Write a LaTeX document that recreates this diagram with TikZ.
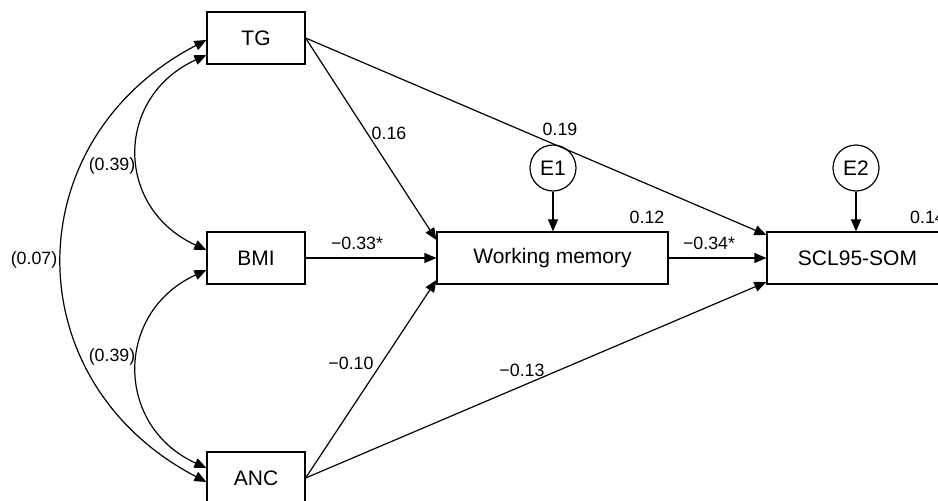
\documentclass[tikz,border=0pt]{standalone}
\usepackage{fontspec}
\setmainfont{Liberation Sans}
\usetikzlibrary{arrows.meta}
\begin{document}
\begin{tikzpicture}[x=1pt,y=-1pt,
  var/.style={draw,line width=1.2pt,minimum height=52pt,inner sep=0pt,font=\fontsize{21}{25}\selectfont},
  err/.style={draw,circle,line width=1.2pt,minimum size=46pt,inner sep=0pt,font=\fontsize{21}{25}\selectfont},
  path/.style={line width=1.2pt,-{Triangle[length=12pt,width=10pt]}},
  cov/.style={line width=1.2pt,{Triangle[length=12pt,width=10pt]}-{Triangle[length=12pt,width=10pt]}},
  lab/.style={font=\fontsize{17.8}{20}\selectfont,inner sep=0pt}]
\useasboundingbox (0,0) rectangle (938,501);
\clip (0,0) rectangle (938,501);
\fill[white] (0,0) rectangle (938,501);
% observed variables
\node[var,minimum width=98pt] (TG) at (256,38) {TG};
\node[var,minimum width=98pt] (BMI) at (256,258) {BMI};
\node[var,minimum width=98pt] (ANC) at (256,478) {ANC};
\node[var,minimum width=231pt] (WM) at (552.5,258) {Working memory};
\node[var,minimum width=181pt] (SCL) at (857.5,258) {SCL95-SOM};
% errors
\node[err] (E1) at (553,168) {E1};
\node[err] (E2) at (856,168) {E2};
% paths
\draw[path] (TG.east) -- ([yshift=18pt]WM.west);
\draw[path] (TG.east) -- ([yshift=23pt]SCL.west);
\draw[path] (BMI.east) -- (WM.west);
\draw[path] (ANC.east) -- ([yshift=-22pt]WM.west);
\draw[path] (ANC.east) -- ([yshift=-24pt]SCL.west);
\draw[path] (WM.east) -- (SCL.west);
\draw[path] (E1.south) -- (E1.south |- WM.north);
\draw[path] (E2.south) -- (E2.south |- SCL.north);
% covariances
\draw[cov] ([yshift=-17pt]TG.west) .. controls +(-92,42) and +(-92,-42) .. ([yshift=8pt]BMI.west);
\draw[cov] ([yshift=-12pt]BMI.west) .. controls +(-92,42) and +(-92,-42) .. ([yshift=10pt]ANC.west);
\draw[cov] ([yshift=-2pt]TG.west) .. controls +(-192,100) and +(-192,-100) .. ([yshift=-4pt]ANC.west);
% labels
\node[lab] (l1) at (389,133) {0.16};
\node[lab] (l2) at (560,129) {0.19};
\node[lab] (l3) at (357,243) {−0.33*};
\node[lab] (l4) at (351,363) {−0.10};
\node[lab] (l5) at (522,370) {−0.13};
\node[lab] (l6) at (709,243) {−0.34*};
\node[lab] (l7) at (647,217) {0.12};
\node[lab,anchor=west] (l8) at (910,217) {0.14};
\node[lab] (c1) at (112,166) {(0.39)};
\node[lab] (c2) at (112,357) {(0.39)};
\node[lab] (c3) at (34,260) {(0.07)};
\end{tikzpicture}
\end{document}
